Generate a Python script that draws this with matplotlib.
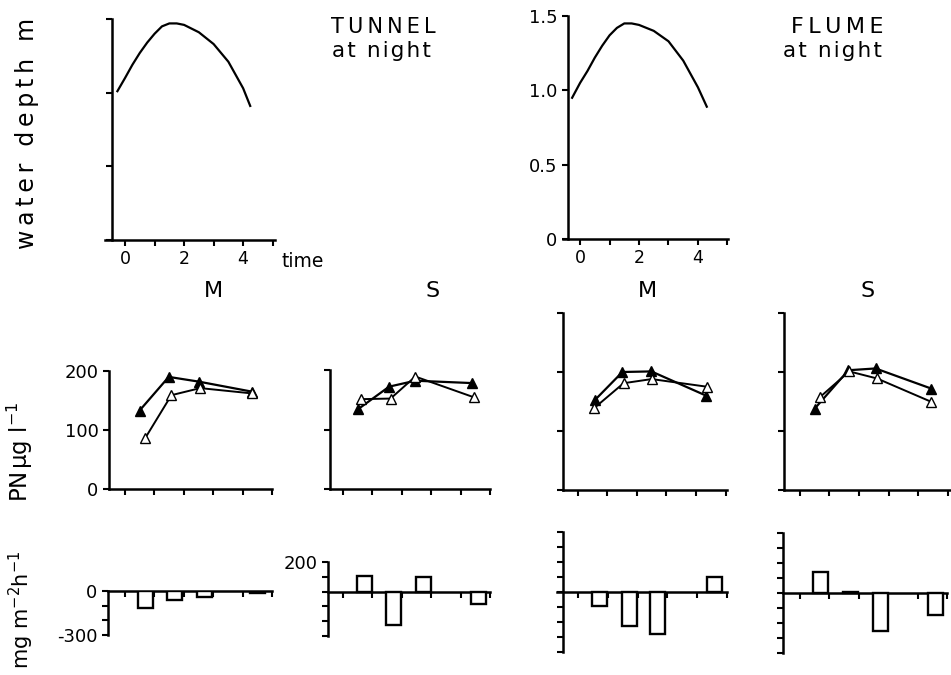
import matplotlib
matplotlib.use("Agg")
import matplotlib.pyplot as plt

plt.rcParams['font.family'] = ['DejaVu Sans']
plt.rcParams['mathtext.fontset'] = 'dejavusans'

W, H = 951, 675

# ---- water depth over the night (time in h) ----
tunnel_t = [-0.26, 0.0, 0.25, 0.5, 0.75, 1.0, 1.25, 1.5, 1.75, 2.0, 2.5, 3.0, 3.5, 4.0, 4.24]
tunnel_depth = [1.01, 1.10, 1.19, 1.27, 1.34, 1.40, 1.45, 1.47, 1.47, 1.46, 1.41, 1.33, 1.21, 1.03, 0.91]
flume_t = [-0.27, 0.0, 0.25, 0.5, 0.75, 1.0, 1.25, 1.5, 1.75, 2.0, 2.5, 3.0, 3.5, 4.0, 4.3]
flume_depth = [0.95, 1.05, 1.13, 1.22, 1.30, 1.37, 1.42, 1.45, 1.45, 1.44, 1.40, 1.33, 1.20, 1.02, 0.89]
depth_ticks = [0, 0.5, 1.0, 1.5]
depth_ticklabels = ['0', '0.5', '1.0', '1.5']
time_ticklabels = ['0', '', '2', '', '4', '']

# ---- particulate nitrogen (PN, ug/l): filled = one series, open = other ----
tm_filled_t = [0.5, 1.49, 2.51, 4.32]
tm_filled = [133, 190, 182, 165]
tm_open_t = [0.7, 1.58, 2.56, 4.32]
tm_open = [87, 159, 171, 162]

ts_filled_t = [0.51, 1.57, 2.46, 4.4]
ts_filled = [134, 172, 182, 178]
ts_open_t = [0.62, 1.62, 2.46, 4.46]
ts_open = [151, 152, 189, 154]

fm_filled_t = [0.57, 1.51, 2.49, 4.34]
fm_filled = [152, 200, 201, 160]
fm_open_t = [0.56, 1.55, 2.5, 4.38]
fm_open = [139, 181, 188, 175]

fs_filled_t = [0.5, 1.64, 2.56, 4.44]
fs_filled = [138, 203, 206, 172]
fs_open_t = [0.69, 1.67, 2.61, 4.42]
fs_open = [158, 201, 189, 150]

# ---- PN flux (mg m-2 h-1) ----
tm_flux_t = [0.7, 1.69, 2.7, 4.5]
tm_flux = [-119, -61, -40, -15]
ts_flux_t = [0.73, 1.72, 2.75, 4.6]
ts_flux = [105, -229, 98, -84]
fm_flux_t = [0.73, 1.72, 2.67, 4.57]
fm_flux = [-95, -225, -277, 101]
fs_flux_t = [0.7, 1.73, 2.73, 4.6]
fs_flux = [142, 10, -255, -149]

time_ticks = [0, 1, 2, 3, 4, 5]
SPINE_LW = 1.8
TICK_FS = 13

fig = plt.figure(figsize=(W / 100, H / 100), dpi=100)


def add_ax(x0, y0, x1, y1):
    return fig.add_axes([x0 / W, 1 - y1 / H, (x1 - x0) / W, (y1 - y0) / H])


def style(ax):
    for s in ('top', 'right'):
        ax.spines[s].set_visible(False)
    for s in ('left', 'bottom'):
        ax.spines[s].set_linewidth(SPINE_LW)
    ax.tick_params(direction='out', length=4.5, width=1.5, labelsize=TICK_FS, pad=3)
    ax.set_facecolor('none')


def depth_panel(box, xlim, spine_x, t, d, ylabels):
    ax = add_ax(*box)
    style(ax)
    ax.plot(t, d, color='black', lw=1.6)
    ax.set_xlim(*xlim)
    ax.set_ylim(0, 1.5)
    ax.spines['left'].set_position(('data', spine_x))
    ax.set_xticks(time_ticks)
    ax.set_xticklabels(time_ticklabels)
    ax.set_yticks(depth_ticks)
    ax.set_yticklabels(depth_ticklabels if ylabels else [''] * 4)
    ax.tick_params(axis='x', labelsize=12.5)
    return ax


depth_panel((105, 19, 275, 240), (-0.68, 5.08), -0.44, tunnel_t, tunnel_depth, False)
depth_panel((563, 16, 728, 239), (-0.58, 5.02), -0.41, flume_t, flume_depth, True)


def pn_panel(box, xlim, ymax, ft, fv, ot, ov, labels):
    ax = add_ax(*box)
    style(ax)
    ax.plot(ft, fv, color='black', lw=1.6, marker='^', ms=7,
            mfc='black', mec='black', zorder=3)
    ax.plot(ot, ov, color='black', lw=1.4, marker='^', ms=7,
            mfc='white', mec='black', mew=1.0, zorder=4)
    ax.set_xlim(*xlim)
    ax.set_ylim(0, ymax)
    ax.set_xticks(time_ticks)
    ax.set_xticklabels([])
    yt = list(range(0, ymax + 1, 100))
    ax.set_yticks(yt)
    ax.set_yticklabels([str(v) for v in yt] if labels else [''] * len(yt))
    return ax


pn_panel((109, 371, 272, 489), (-0.54, 5.0), 200, tm_filled_t, tm_filled, tm_open_t, tm_open, True)
pn_panel((330, 370, 490, 489), (-0.44, 4.98), 200, ts_filled_t, ts_filled, ts_open_t, ts_open, False)
pn_panel((563, 313, 727, 490), (-0.5, 5.05), 300, fm_filled_t, fm_filled, fm_open_t, fm_open, False)
pn_panel((784, 313, 950, 490), (-0.54, 5.08), 300, fs_filled_t, fs_filled, fs_open_t, fs_open, False)


def flux_panel(box, xlim, spine_x, ylim, yticks, ylabels, t, v):
    ax = add_ax(*box)
    style(ax)
    ax.bar(t, v, width=0.5, facecolor='white', edgecolor='black',
           linewidth=1.7, zorder=3)
    ax.set_xlim(*xlim)
    ax.set_ylim(*ylim)
    ax.spines['bottom'].set_position(('data', 0))
    ax.spines['left'].set_position(('data', spine_x))
    ax.set_xticks(time_ticks)
    ax.set_xticklabels([])
    ax.set_yticks(yticks)
    ax.set_yticklabels(ylabels)
    return ax


flux_panel((108, 591, 272, 635), (-0.57, 5.0), -0.57, (-300, 0),
           [-300, -200, -100, 0], ['-300', '', '', '0'], tm_flux_t, tm_flux)
flux_panel((328, 562, 490, 636), (-0.5, 4.98), -0.5, (-300, 200),
           [-300, -200, -100, 0, 100, 200], ['', '', '', '', '', '200'], ts_flux_t, ts_flux)
flux_panel((557, 532, 727, 652), (-0.7, 5.0), -0.5, (-400, 400),
           list(range(-400, 401, 100)), [''] * 9, fm_flux_t, fm_flux)
flux_panel((783, 533, 947, 653), (-0.57, 4.9), -0.57, (-400, 400),
           list(range(-400, 401, 100)), [''] * 9, fs_flux_t, fs_flux)


def spaced(s, gap='\u2009'):
    return gap.join(s)


def put(x, y, s, **kw):
    fig.text(x / W, 1 - y / H, s, ha='center', va='center', **kw)


# ---- titles and axis labels ----
put(383, 27, spaced('TUNNEL'), fontsize=15)
put(381, 51, spaced('at night', '\u200a'), fontsize=15.5)
put(837, 27, spaced('FLUME'), fontsize=16)
put(832, 51, spaced('at night', '\u200a'), fontsize=15.5)

fig.text(282 / W, 1 - 261 / H, 'time', fontsize=13.5, ha='left', va='center')

for txt, x in [('M', 213), ('S', 433), ('M', 647), ('S', 868)]:
    put(x, 291, txt, fontsize=16)

put(27, 133, spaced('water depth m'), fontsize=17, rotation=90)
put(20, 452, 'PN\u200aμg l$^{-1}$', fontsize=16.5, rotation=90)
put(21, 610, 'mg m$^{-2}$h$^{-1}$', fontsize=15, rotation=90)

fig.savefig('out.png', dpi=100, facecolor='white')
